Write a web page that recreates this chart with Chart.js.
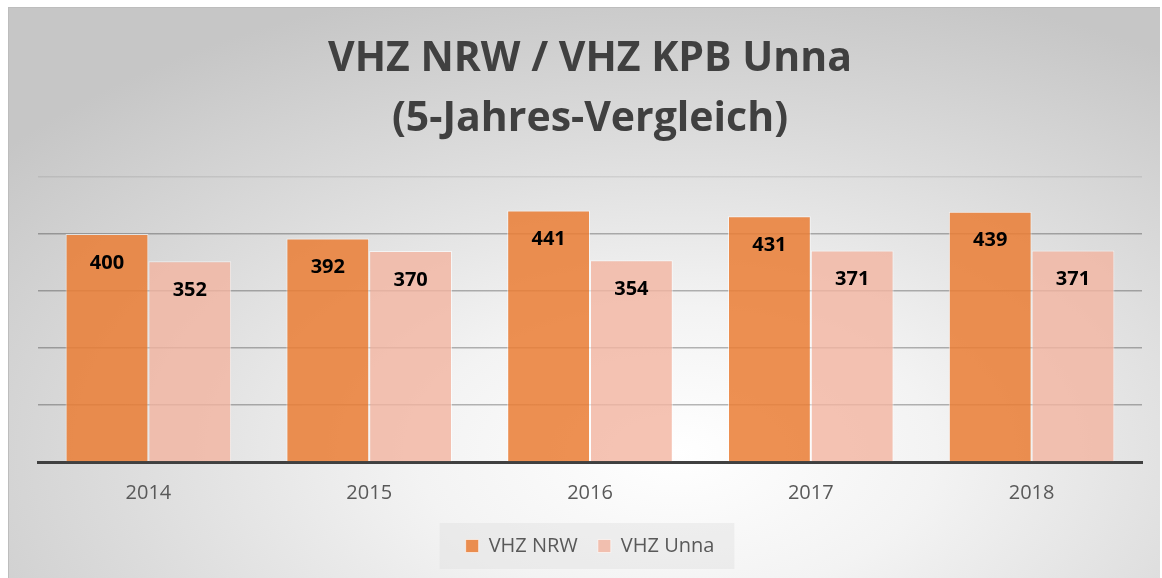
<!DOCTYPE html>
<html>
<head>
<meta charset="utf-8">
<script src="https://cdn.jsdelivr.net/npm/chart.js@4.4.0/dist/chart.umd.min.js"></script>
<style>
  html, body { margin: 0; padding: 0; background: #fff; }
  #frame {
    position: absolute; left: 8px; top: 7px; width: 1152px; height: 571px;
    box-sizing: border-box;
    border-top: 1px solid #bdbdbd; border-left: 1px solid #bdbdbd;
    background: radial-gradient(ellipse 75% 85% at 58% 78%, #ffffff 0%, #f3f3f3 30%, #dcdcdc 65%, #c6c6c6 100%);
  }
  #wrap { position: absolute; left: 0; top: 0; width: 1162px; height: 578px; }
</style>
</head>
<body>
<div id="frame"></div>
<div id="wrap"><canvas id="chart" width="1162" height="578"></canvas></div>
<script>
// ---- Daten ----
const jahre = ["2014", "2015", "2016", "2017", "2018"];
const vhzNrw = [400, 392, 441, 431, 439];
const vhzUnna = [352, 370, 354, 371, 371];
const titelZeilen = ["VHZ NRW / VHZ KPB Unna", "(5-Jahres-Vergleich)"];

const FONT = "'Open Sans', 'DejaVu Sans', sans-serif";

// Werte oben in die Balken schreiben
const wertePlugin = {
  id: "werte",
  afterDatasetsDraw(chart) {
    const ctx = chart.ctx;
    ctx.save();
    ctx.font = "bold 20px " + FONT;
    ctx.fillStyle = "#000";
    ctx.textAlign = "center";
    ctx.textBaseline = "middle";
    chart.data.datasets.forEach((ds, i) => {
      chart.getDatasetMeta(i).data.forEach((bar, j) => {
        ctx.fillText(ds.data[j], bar.x, bar.y + 29);
      });
    });
    ctx.restore();
  }
};

// grauer Kasten hinter der Legende
const legendBox = {
  id: "legendBox",
  beforeDraw(chart) {
    const lg = chart.legend;
    if (!lg || !lg.legendHitBoxes.length) return;
    const hb = lg.legendHitBoxes;
    const x0 = hb[0].left - 26, x1 = hb[hb.length - 1].left + hb[hb.length - 1].width + 20;
    const cy = hb[0].top + hb[0].height / 2;
    const ctx = chart.ctx;
    ctx.save();
    ctx.fillStyle = "rgba(225,225,225,0.45)";
    ctx.fillRect(x0, cy - 23, x1 - x0, 46);
    ctx.restore();
  }
};

new Chart(document.getElementById("chart"), {
  type: "bar",
  data: {
    labels: jahre,
    datasets: [
      {
        label: "VHZ NRW",
        data: vhzNrw,
        backgroundColor: "rgba(234,124,52,0.85)",
        borderColor: "rgba(255,255,255,0.6)",
        borderWidth: 1
      },
      {
        label: "VHZ Unna",
        data: vhzUnna,
        backgroundColor: "rgba(242,180,160,0.8)",
        borderColor: "rgba(255,255,255,0.6)",
        borderWidth: 1
      }
    ]
  },
  options: {
    responsive: false,
    animation: false,
    devicePixelRatio: 1,
    layout: { padding: { top: 30, left: 38, right: 20, bottom: 12 } },
    datasets: { bar: { categoryPercentage: 0.75, barPercentage: 1.0 } },
    plugins: {
      title: {
        display: true,
        text: titelZeilen,
        color: "#404040",
        font: { family: FONT, size: 41, weight: "bold", lineHeight: 1.45 },
        padding: { top: 0, bottom: 28 }
      },
      legend: {
        position: "bottom",
        labels: {
          color: "#595959",
          font: { family: FONT, size: 20 },
          boxWidth: 13,
          boxHeight: 13,
          padding: 20
        }
      },
      tooltip: { enabled: false }
    },
    scales: {
      x: {
        grid: { display: false },
        border: { color: "#404040", width: 3 },
        ticks: { color: "#595959", font: { family: FONT, size: 20 }, padding: 11 }
      },
      y: {
        min: 0,
        max: 500,
        ticks: { display: false, stepSize: 100 },
        border: { display: false },
        grid: {
          drawTicks: false,
          color: (c) => c.tick.value === 500 ? "rgba(0,0,0,0.08)" : "rgba(0,0,0,0.28)",
          lineWidth: 1.5
        }
      }
    }
  },
  plugins: [legendBox, wertePlugin]
});
</script>
</body>
</html>
